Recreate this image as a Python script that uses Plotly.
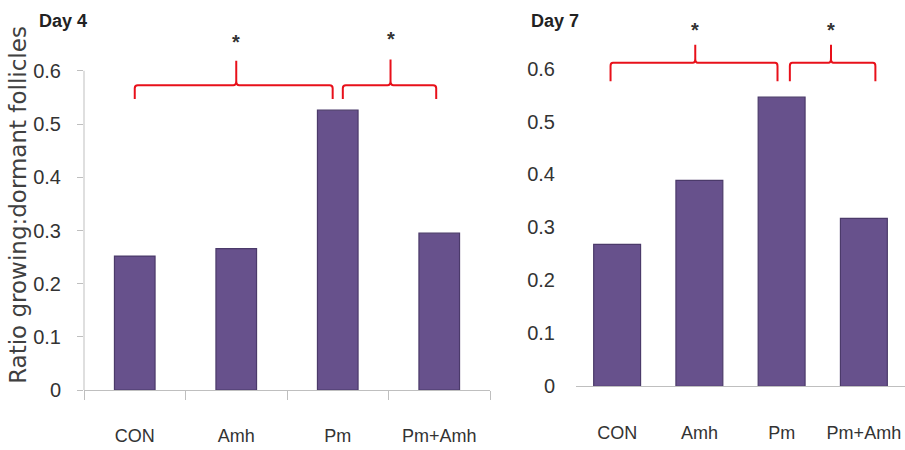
import plotly.graph_objects as go

categories = ["CON", "Amh", "Pm", "Pm+Amh"]
day4_values = [0.252, 0.266, 0.526, 0.295]
day7_values = [0.268, 0.389, 0.546, 0.317]
y_ticks = [0, 0.1, 0.2, 0.3, 0.4, 0.5, 0.6]
y_tick_labels = ["0", "0.1", "0.2", "0.3", "0.4", "0.5", "0.6"]
panel_titles = ["Day 4", "Day 7"]
y_title = "Ratio growing:dormant follicles"

# significance brackets: (x_start, x_end, x_peak, y_bar, y_leg, y_peak, y_star)
day4_brackets = [(0.0, 1.95, 1.0, 0.573, 0.547, 0.619, 0.655),
                 (2.05, 2.97, 2.52, 0.573, 0.547, 0.621, 0.66)]
day7_brackets = [(-0.08, 1.95, 0.95, 0.611, 0.576, 0.645, 0.672),
                 (2.1, 3.14, 2.6, 0.611, 0.576, 0.645, 0.672)]

FONT = "Liberation Sans, Arial, sans-serif"
BAR = "#67518c"
BAR_EDGE = "#4b3a6a"
RED = "#e8101a"
AXIS = "#bfbfbf"
TXT = "#333333"

xidx = list(range(len(categories)))
fig = go.Figure()
fig.add_trace(go.Bar(x=xidx, y=day4_values, width=0.4, marker=dict(color=BAR, line=dict(color=BAR_EDGE, width=1.2)),
                     xaxis="x", yaxis="y", showlegend=False, hoverinfo="skip"))
fig.add_trace(go.Bar(x=xidx, y=day7_values, width=0.57, marker=dict(color=BAR, line=dict(color=BAR_EDGE, width=1.2)),
                     xaxis="x2", yaxis="y2", showlegend=False, hoverinfo="skip"))

W, H = 905, 450
common_x = dict(range=[-0.5, 3.5], tickmode="array", tickvals=xidx, ticktext=categories,
                showgrid=False, zeroline=False, showline=True, linecolor=AXIS, linewidth=1,
                ticks="", tickfont=dict(family=FONT, size=18, color=TXT), fixedrange=True,
                ticklabeloverflow="allow")
common_y = dict(range=[0, 0.7], tickmode="array", tickvals=y_ticks, ticktext=y_tick_labels,
                showgrid=False, zeroline=False, showline=False, fixedrange=True,
                tickfont=dict(family=FONT, size=20, color=TXT))

fig.update_layout(
    width=W, height=H, margin=dict(l=0, r=0, t=0, b=0),
    plot_bgcolor="white", paper_bgcolor="white", bargap=0,
    xaxis=dict(common_x, domain=[84 / W, 490 / W], anchor="y", ticklabelstandoff=29,
               minor=dict(tickvals=[-0.5, 0.5, 1.5, 2.5, 3.5], ticks="outside", ticklen=9,
                          tickcolor=AXIS, tickwidth=1)),
    yaxis=dict(common_y, domain=[50 / H, 432 / H], anchor="x", ticks="outside", ticklen=6,
               tickcolor=AXIS, ticklabelstandoff=12),
    xaxis2=dict(common_x, domain=[576 / W, 1.0], anchor="y2", ticklabelstandoff=30),
    yaxis2=dict(common_y, domain=[54 / H, 434 / H], anchor="x2", ticks="", ticklabelstandoff=20),
)

shapes = []
# left y axis line from 0 to 0.6
shapes.append(dict(type="line", xref="x domain", yref="y", x0=0, x1=0, y0=0, y1=y_ticks[-1],
                   line=dict(color=AXIS, width=1)))

annotations = []
for brackets, xr, yr in [(day4_brackets, "x", "y"), (day7_brackets, "x2", "y2")]:
    for (xs, xe, xp, yb, yl, yp, ys) in brackets:
        r = 0.03
        path = (f"M {xs},{yl} L {xs},{yb - 0.006} Q {xs},{yb} {xs + r},{yb} "
                f"L {xp - r},{yb} Q {xp},{yb} {xp},{yb + 0.008} L {xp},{yp} "
                f"M {xp},{yb + 0.008} Q {xp},{yb} {xp + r},{yb} "
                f"L {xe - r},{yb} Q {xe},{yb} {xe},{yb - 0.006} L {xe},{yl}")
        shapes.append(dict(type="path", xref=xr, yref=yr, path=path, line=dict(color=RED, width=2)))
        annotations.append(dict(x=xp, y=ys, xref=xr, yref=yr, text="<b>*</b>", showarrow=False,
                                font=dict(family=FONT, size=20, color=TXT)))

annotations.append(dict(x=37 / W, y=1 - 22 / H, xref="paper", yref="paper", xanchor="left", yanchor="middle",
                        text=f"<b>{panel_titles[0]}</b>", showarrow=False,
                        font=dict(family=FONT, size=18, color="#222222")))
annotations.append(dict(x=529 / W, y=1 - 22 / H, xref="paper", yref="paper", xanchor="left", yanchor="middle",
                        text=f"<b>{panel_titles[1]}</b>", showarrow=False,
                        font=dict(family=FONT, size=18, color="#222222")))
annotations.append(dict(x=18 / W, y=1 - 210 / H, xref="paper", yref="paper", xanchor="center", yanchor="middle",
                        text=y_title, textangle=-90, showarrow=False,
                        font=dict(family="DejaVu Sans, sans-serif", size=23, color="#404040")))

fig.update_layout(shapes=shapes, annotations=annotations)
post = ("document.documentElement.style.margin='0';document.body.style.margin='0';"
        "document.documentElement.style.overflow='hidden';document.body.style.overflow='hidden';"
        "var gd=document.getElementById('{plot_id}');"
        "gd.style.position='fixed';gd.style.top='0';gd.style.left='0';")
fig.write_html("out.html", config={"displayModeBar": False, "staticPlot": True}, post_script=post)
